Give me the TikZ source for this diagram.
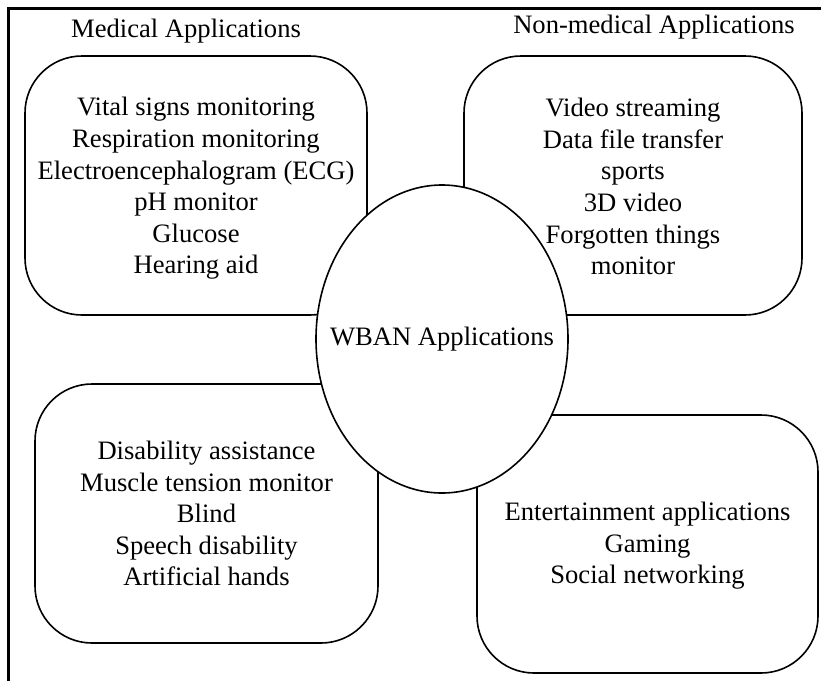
\documentclass[tikz,border=0pt]{standalone}
\usepackage{fontspec}
\setmainfont{Liberation Serif}
\usetikzlibrary{shapes.geometric}
\begin{document}
\begin{tikzpicture}[x=1pt,y=-1pt,
  every node/.style={font=\fontsize{26.6}{31.6}\selectfont},
  appbox/.style={draw=black, line width=1.6pt, rounded corners=57pt, inner sep=0pt},
  apptext/.style={align=center, inner sep=0pt},
  hub/.style={ellipse, draw=black, fill=white, line width=1.6pt, inner sep=0pt, minimum width=252pt, minimum height=308pt},
  frameline/.style={line width=3pt}]
\useasboundingbox (0,0) rectangle (821,683);
% frame (top and left edges)
\coordinate (ftl) at (8.5,8.5);
\coordinate (ftr) at (821,8.5);
\coordinate (fbl) at (8.5,681);
\draw[frameline] (ftr) -- (ftl) -- (fbl);
% titles
\node[anchor=base] (tmed) at (186,37) {Medical Applications};
\node[anchor=base] (tnon) at (654,33) {Non-medical Applications};
% boxes
\node[appbox, minimum width=342pt, minimum height=259pt] (tl) at (196,185.5) {};
\node[appbox, minimum width=338pt, minimum height=259pt] (tr) at (633,185.5) {};
\node[appbox, minimum width=343pt, minimum height=259pt] (bl) at (206.5,513.5) {};
\node[appbox, minimum width=341pt, minimum height=258pt] (br) at (647.5,544) {};
% centre
\node[hub] (wban) at (442,339) {};
\node (wbantext) at (wban.center) {WBAN Applications};
% box texts
\node[apptext] (tltext) at ([yshift=-3pt]tl.center)
  {Vital signs monitoring\\Respiration monitoring\\Electroencephalogram (ECG)\\pH monitor\\Glucose\\Hearing aid};
\node[apptext] (trtext) at ([yshift=-1pt]tr.center)
  {Video streaming\\Data file transfer\\sports\\3D video\\Forgotten things\\monitor};
\node[apptext] (bltext) at (bl.center)
  {Disability assistance\\Muscle tension monitor\\Blind\\Speech disability\\Artificial hands};
\node[apptext] (brtext) at ([yshift=-2pt]br.center)
  {Entertainment applications\\Gaming\\Social networking};
\end{tikzpicture}
\end{document}
